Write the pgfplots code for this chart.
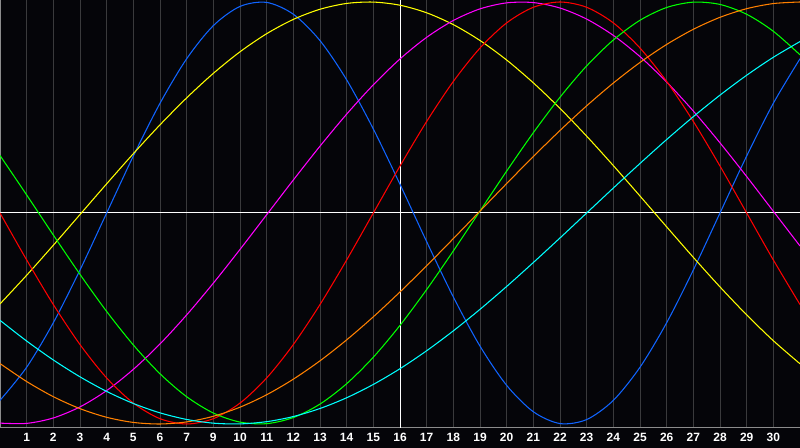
\documentclass[border=0pt]{standalone}
\usepackage{fontspec}
\setmainfont{Liberation Sans}
\usepackage{pgfplots}
\usepackage{pgfplotstable}
\pgfplotsset{compat=1.18}

\definecolor{bg}{RGB}{5,5,9}
\definecolor{gridgray}{RGB}{58,58,60}
\definecolor{framegray}{RGB}{140,140,140}
\definecolor{phys}{RGB}{16,100,255}
\definecolor{emo}{RGB}{255,0,0}
\definecolor{intel}{RGB}{0,255,0}
\definecolor{intu}{RGB}{255,0,255}
\definecolor{aes}{RGB}{255,255,0}
\definecolor{awa}{RGB}{255,128,0}
\definecolor{spi}{RGB}{0,255,255}

% day, then the seven cycles (23, 28, 33, 38, 43, 48, 53 days)
\pgfplotstableread{
d  phys    emo     intel   intu    aes     awa     spi
0  -0.888  0       0.2726  -0.9959 -0.4310 -0.7135 -0.5086
1  -0.731  -0.2225 0.0856  -0.9972 -0.2951 -0.7988 -0.6069
2  -0.520  -0.4339 -0.1045 -0.9714 -0.1528 -0.8706 -0.6966
3  -0.270  -0.6235 -0.2909 -0.9190 -0.0073 -0.9273 -0.7765
4  0.000   -0.7818 -0.4667 -0.8417 0.1383  -0.9683 -0.8457
5  0.270   -0.9010 -0.6255 -0.7411 0.2811  -0.9926 -0.9028
6  0.520   -0.9749 -0.7620 -0.6207 0.4178  -1.0000 -0.9473
7  0.731   -1.0000 -0.8708 -0.4831 0.5456  -0.9902 -0.9785
8  0.888   -0.9749 -0.9481 -0.3325 0.6618  -0.9635 -0.9961
9  0.979   -0.9010 -0.9911 -0.1728 0.7640  -0.9204 -0.9996
10 0.998   -0.7818 -0.9984 -0.0082 0.8498  -0.8614 -0.9890
11 0.942   -0.6235 -0.9695 0.1564  0.9175  -0.7876 -0.9647
12 0.817   -0.4339 -0.9057 0.3168  0.9656  -0.7006 -0.9266
13 0.631   -0.2225 -0.8090 0.4685  0.9932  -0.6013 -0.8757
14 0.398   0       -0.6834 0.6076  0.9996  -0.4920 -0.8125
15 0.136   0.2225  -0.5326 0.7301  0.9847  -0.3742 -0.7380
16 -0.136  0.4339  -0.3627 0.8326  0.9488  -0.2499 -0.6528
17 -0.398  0.6235  -0.1798 0.9124  0.8927  -0.1214 -0.5586
18 -0.631  0.7818  0.0096  0.9674  0.8175  0.0092  -0.4566
19 -0.817  0.9010  0.1987  0.9959  0.7249  0.1396  -0.3482
20 -0.942  0.9749  0.3806  0.9972  0.6168  0.2677  -0.2348
21 -0.998  1.0000  0.5487  0.9714  0.4958  0.3911  -0.1183
22 -0.979  0.9749  0.6971  0.9190  0.3641  0.5079  0
23 -0.888  0.9010  0.8199  0.8417  0.2246  0.6159  0.1183
24 -0.731  0.7818  0.9135  0.7411  0.0804  0.7135  0.2348
25 -0.520  0.6235  0.9740  0.6207  -0.0657 0.7988  0.3482
26 -0.270  0.4339  0.9993  0.4831  -0.2103 0.8706  0.4566
27 0.000   0.2225  0.9884  0.3325  -0.3504 0.9274  0.5586
28 0.270   0       0.9418  0.1728  -0.4829 0.9683  0.6528
29 0.520   -0.2225 0.8612  0.0082  -0.6053 0.9926  0.7380
30 0.731   -0.4339 0.7497  -0.1564 -0.7146 1.0000  0.8125
}\cycles

\begin{document}
\begin{tikzpicture}
\useasboundingbox (0pt,-15pt) rectangle (600pt,321pt);
\fill[bg] (0pt,-15pt) rectangle (600pt,321pt);
\begin{axis}[
    at={(0pt,0pt)}, anchor=south west,
    scale only axis,
    width=600pt, height=321pt,
    xmin=0, xmax=30,
    ymin=-1.019, ymax=1.0095,
    axis background/.style={fill=bg},
    axis line style={draw=framegray, line width=0.75pt},
    xtick={1,...,29},
    xticklabels={1,2,3,4,5,6,7,9,10,11,12,13,14,15,16,17,18,19,20,21,22,23,24,25,26,27,28,29,30},
    ytick=\empty,
    major tick length=0pt,
    xmajorgrids,
    major grid style={draw=gridgray, line width=0.75pt},
    xticklabel style={text=white, font=\fontsize{9}{10}\selectfont\bfseries,
        inner sep=0pt, anchor=north, yshift=-4pt},
    extra x ticks={15},
    extra x tick labels={},
    extra x tick style={grid=major, major grid style={draw=white, line width=0.75pt}},
    extra y ticks={0},
    extra y tick labels={},
    extra y tick style={grid=major, major grid style={draw=white, line width=0.75pt}},
    every axis plot/.append style={smooth, line width=0.8pt, no markers},
]
\addplot[phys]  table[x=d, y=phys]  {\cycles};
\addplot[aes]   table[x=d, y=aes]   {\cycles};
\addplot[intu]  table[x=d, y=intu]  {\cycles};
\addplot[emo]   table[x=d, y=emo]   {\cycles};
\addplot[intel] table[x=d, y=intel] {\cycles};
\addplot[awa]   table[x=d, y=awa]   {\cycles};
\addplot[spi]   table[x=d, y=spi]   {\cycles};
\end{axis}
\end{tikzpicture}
\end{document}
